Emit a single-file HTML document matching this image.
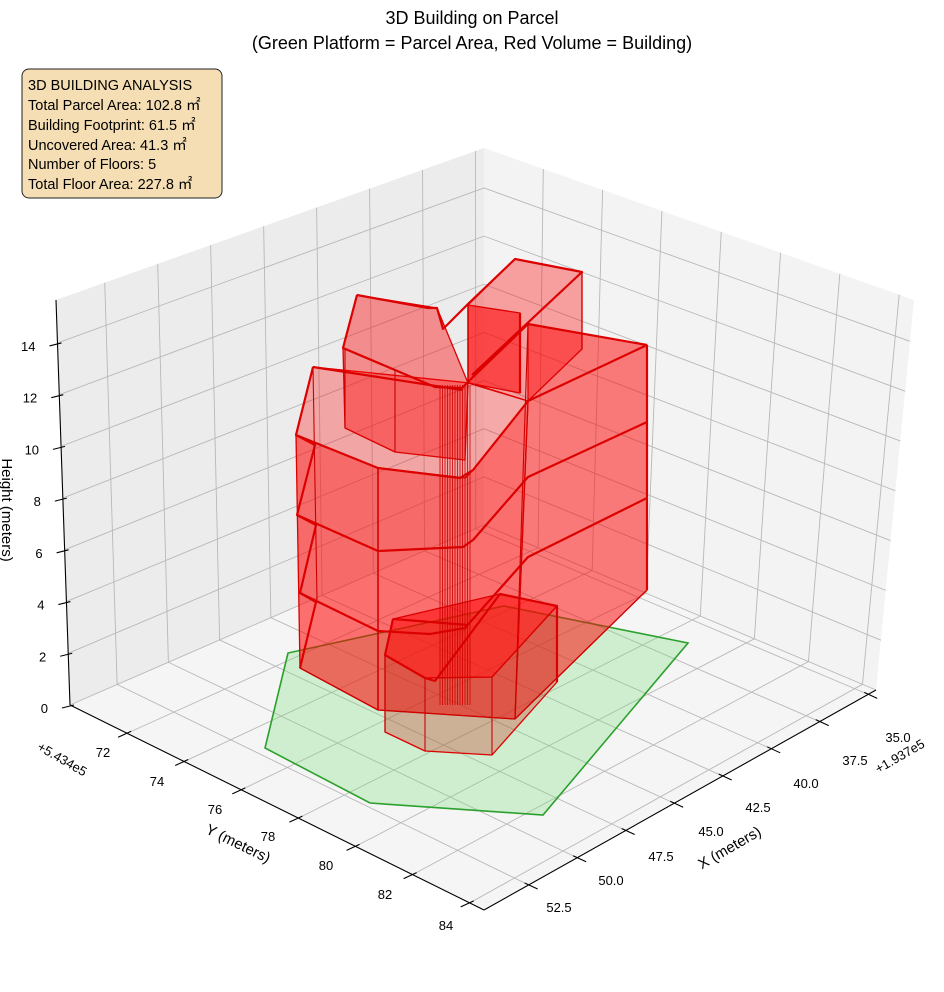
<!DOCTYPE html>
<html><head><meta charset="utf-8"><style>
html,body{margin:0;padding:0;background:#fff}
svg{display:block}
text{font-family:"Liberation Sans",sans-serif;fill:#000}
</style></head><body>
<svg id="s" width="944" height="992" viewBox="0 0 944 992" xmlns="http://www.w3.org/2000/svg">
<rect width="944" height="992" fill="#fff"/>
<polygon points="56,300 484,148 484,525 70,705" fill="#ececec"/>
<polygon points="484,148 914,300 876,690 484,525" fill="#f3f3f3"/>
<polygon points="70,705 484,525 876,690 484,910" fill="#f5f5f5"/>
<g id="grid" stroke="#b8b8b8" stroke-width="0.9" fill="none"></g>

<polygon points="288,653 265,748 370,803 543,815 688,643 504,606" fill="rgba(120,220,120,0.3)" stroke="#2ca02c" stroke-width="1.6"/>

<g stroke="#dd0000" stroke-width="1.3" stroke-linejoin="round">
<polygon points="296,435 378,468 378,710 300,668" fill="rgba(255,0,0,0.55)"/>
<polygon points="378,468 465,478 473,470 528,401 515,719 378,710" fill="rgba(255,0,0,0.55)"/>
<polygon points="528,324 647,345 647,590 515,719 528,401" fill="rgba(255,0,0,0.5)"/>
<polygon points="313,367 296,435 378,468 465,478 473,470 528,401 470,383" fill="rgba(255,0,0,0.3)"/>
<polygon points="357,295 343,348 345,428 395,452 465,460 468,383 437,308" fill="rgba(255,0,0,0.4)"/>
<polygon points="468,305 515,259 582,272 582,349 528,401 468,383" fill="rgba(255,0,0,0.35)"/>
<polygon points="468,305 520,313 520,393 468,383" fill="rgba(255,0,0,0.55)"/>
<polygon points="393,619 385,655 425,678 492,677 557,606 500,594" fill="rgba(255,0,0,0.5)"/>
<polygon points="385,655 425,678 492,677 557,606 557,682 492,755 425,751 385,732" fill="rgba(200,40,20,0.3)"/>
</g>
<g stroke="#dd0000" stroke-width="2.2" fill="none" stroke-linejoin="round">
<polyline points="357,295 343,348 395,370 435,387 462,388 472,378 528,324 647,345"/>
<polyline points="357,295 428,308 437,308 443,329 469,303 515,259 582,272 472,375"/>
<polyline points="313,367 296,435 378,468 460,478 473,470 528,401 647,345"/>
<polyline points="313,367 462,390"/>
<polyline points="296,435 315,445 297,515 378,551 463,547 473,540 528,477 647,422"/>
<polyline points="297,515 316,525 300,593 378,631 430,634 465,628 528,557 647,498"/>
<polyline points="300,593 316,602 300,668"/>
<polyline points="393,619 385,655 425,678 435,681 500,594 557,606 557,682"/>
<polyline points="393,619 468,625"/>
<polyline points="520,313 520,393"/>
<polyline points="647,345 647,590"/>
</g>
<g stroke="#cc0000" stroke-width="1.1" fill="none">
<line x1="313" y1="367" x2="317" y2="600"/>
<line x1="345" y1="348" x2="345" y2="428"/>
<line x1="395" y1="370" x2="395" y2="452"/>
<line x1="378" y1="468" x2="378" y2="710"/>
<line x1="528" y1="324" x2="515" y2="719"/>
<line x1="582" y1="272" x2="582" y2="349"/>
<line x1="468" y1="305" x2="468" y2="383"/>
<line x1="425" y1="678" x2="425" y2="751"/>
<line x1="492" y1="677" x2="492" y2="755"/>
<line x1="385" y1="655" x2="385" y2="732"/>
<line x1="647" y1="590" x2="515" y2="719"/>
<line x1="300" y1="668" x2="378" y2="710"/>
<line x1="378" y1="710" x2="515" y2="719"/>
<g id="cyl"></g>
</g>

<g id="axes" stroke="#000" stroke-width="1.1" fill="none">
<line x1="56" y1="300" x2="70" y2="705"/>
<line x1="70" y1="705" x2="484" y2="910"/>
<line x1="484" y1="910" x2="876" y2="690"/>
</g>
<g id="labels" font-size="13"></g>

<text x="472" y="24" font-size="18" text-anchor="middle">3D Building on Parcel</text>
<text x="472" y="49" font-size="18" text-anchor="middle">(Green Platform = Parcel Area, Red Volume = Building)</text>

<rect x="22" y="69" width="200" height="129" rx="7" fill="#f5deb3" stroke="#222" stroke-width="1"/>
<g font-size="14.5">
<text x="28" y="90">3D BUILDING ANALYSIS</text>
<text x="28" y="110">Total Parcel Area: 102.8 ㎡</text>
<text x="28" y="130">Building Footprint: 61.5 ㎡</text>
<text x="28" y="150">Uncovered Area: 41.3 ㎡</text>
<text x="28" y="169">Number of Floors: 5</text>
<text x="28" y="189">Total Floor Area: 227.8 ㎡</text>
</g>
<text transform="translate(2,510) rotate(90)" font-size="15" text-anchor="middle">Height (meters)</text>
<text transform="translate(236,848) rotate(26)" font-size="15" text-anchor="middle">Y (meters)</text>
<text transform="translate(732,852) rotate(-30)" font-size="15" text-anchor="middle">X (meters)</text>
<text transform="translate(60,763) rotate(30)" font-size="13" text-anchor="middle">+5.434e5</text>
<text transform="translate(902,760) rotate(-30)" font-size="13" text-anchor="middle">+1.937e5</text>
</svg>
<script>
(function(){
var NS="http://www.w3.org/2000/svg";
var B=[484,525],L=[70,705],R=[876,690],F=[484,910],Bt=[484,148],Lt=[56,300],Rt=[914,300];
function lerp(p,q,t){return [p[0]+(q[0]-p[0])*t,p[1]+(q[1]-p[1])*t];}
function fl(a,b){return lerp(lerp(B,L,a),lerp(R,F,a),b);}
var g=document.getElementById('grid');
function ln(par,p,q,attrs){var e=document.createElementNS(NS,'line');e.setAttribute('x1',p[0]);e.setAttribute('y1',p[1]);e.setAttribute('x2',q[0]);e.setAttribute('y2',q[1]);if(attrs)for(var k in attrs)e.setAttribute(k,attrs[k]);par.appendChild(e);}
var ZT=15.66;
var xs=[35,37.5,40,42.5,45,47.5,50,52.5],ys=[72,74,76,78,80,82,84],zs=[0,2,4,6,8,10,12,14];
xs.forEach(function(X){var a=(X-34.6)/20.2;ln(g,fl(a,0),fl(a,1));ln(g,lerp(B,L,a),lerp(Bt,Lt,a));});
ys.forEach(function(Y){var b=(Y-70)/14.5;ln(g,fl(0,b),fl(1,b));ln(g,lerp(B,R,b),lerp(Bt,Rt,b));});
zs.forEach(function(z){var t=z/ZT;ln(g,lerp(L,Lt,t),lerp(B,Bt,t));ln(g,lerp(B,Bt,t),lerp(R,Rt,t));});
var ax=document.getElementById('axes'),lb=document.getElementById('labels');
function tx(x,y,s,anc){var e=document.createElementNS(NS,'text');e.setAttribute('x',x);e.setAttribute('y',y);e.setAttribute('text-anchor',anc||'middle');e.textContent=s;lb.appendChild(e);}
var xl=[[898,742],[855,765],[806,788],[758,812],[711,836],[661,861],[611,885],[559,912]];
xs.forEach(function(X,i){var a=(X-34.6)/20.2;var p=lerp(R,F,a);ln(ax,[p[0]-4,p[1]-2],[p[0]+9,p[1]+4]);tx(xl[i][0],xl[i][1],X.toFixed(1));});
var yl=[[103,757],[157,786],[215,814],[268,841],[326,870],[385,899],[446,930]];
ys.forEach(function(Y,i){var b=(Y-70)/14.5;var p=lerp(L,F,b);ln(ax,[p[0]+4,p[1]-2],[p[0]-9,p[1]+4]);tx(yl[i][0],yl[i][1],String(Y));});
zs.forEach(function(z){var t=z/ZT;var p=lerp(L,Lt,t);ln(ax,[p[0]+4,p[1]],[p[0]-8,p[1]+3]);tx(p[0]-22,p[1]+8,String(z),'end');});
var c=document.getElementById('cyl');
for(var x=440;x<=470;x+=2.5){ln(c,[x,385],[x,705],{'stroke-width':'0.8'});}
})();
</script>
</body></html>
